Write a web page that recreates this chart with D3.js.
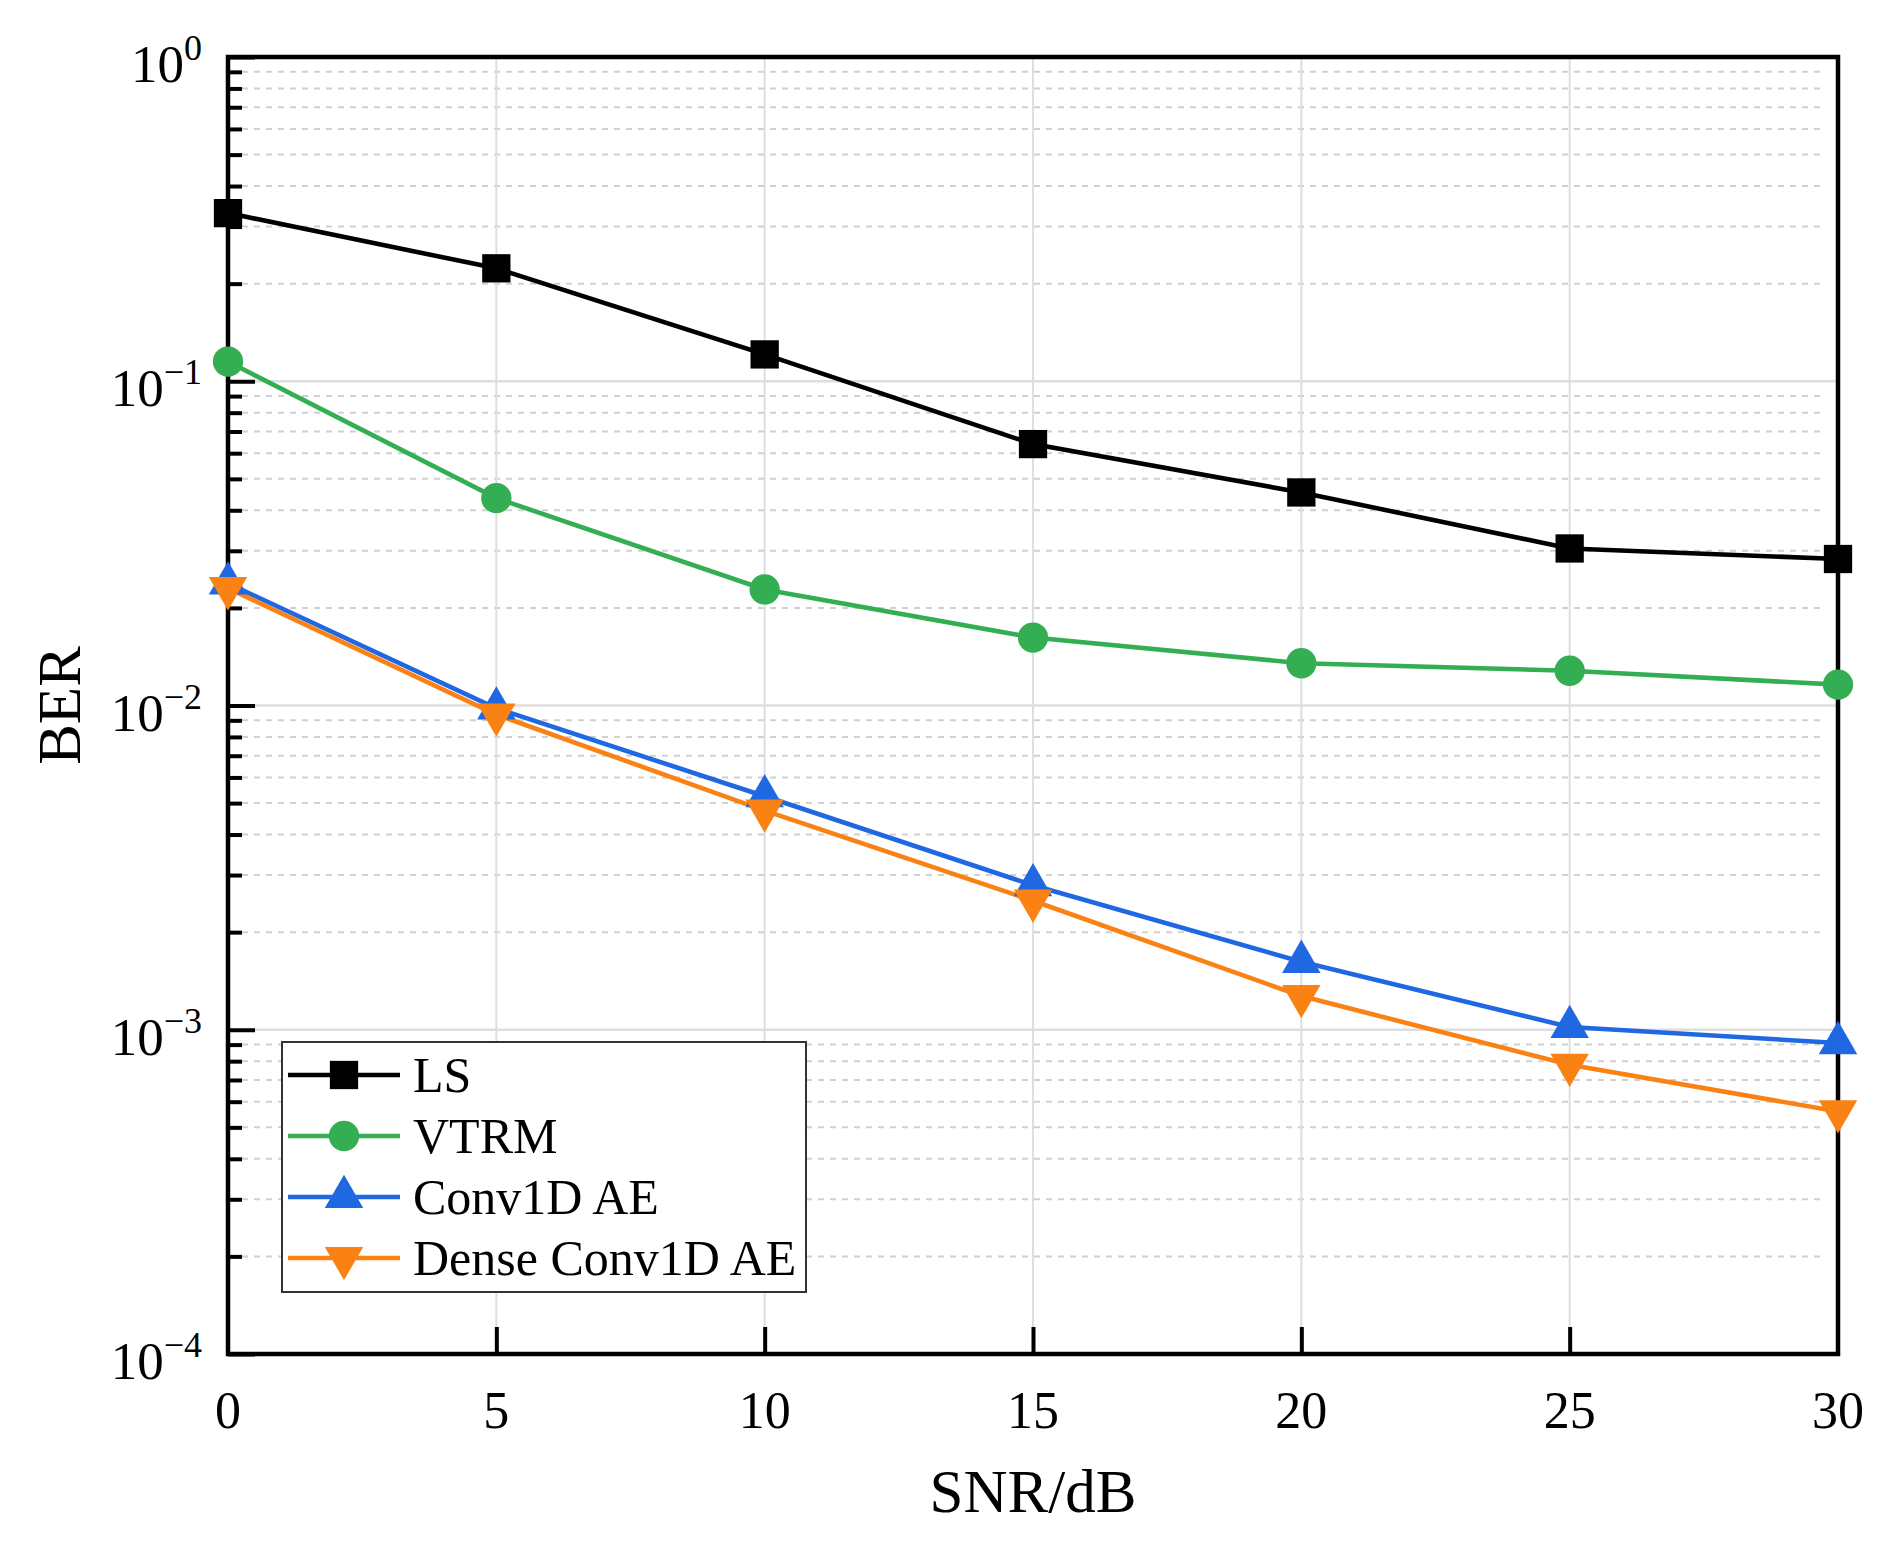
<!DOCTYPE html>
<html>
<head>
<meta charset="utf-8">
<script src="https://cdn.jsdelivr.net/npm/d3@7"></script>
<style>
  body { margin: 0; background: #fff; }
  text { font-family: "Liberation Serif", "Times New Roman", serif; fill: #000; }
</style>
</head>
<body>
<svg id="chart" width="1888" height="1557"></svg>
<script>
const snr = [0, 5, 10, 15, 20, 25, 30];
const berLS = [0.33, 0.223, 0.121, 0.064, 0.0454, 0.0305, 0.0283];
const berVTRM = [0.115, 0.0436, 0.0228, 0.0162, 0.0135, 0.0128, 0.0116];
const berConv = [0.0238, 0.0098, 0.00525, 0.00279, 0.00162, 0.00102, 0.00091];
const berDense = [0.023, 0.00938, 0.00474, 0.0025, 0.00127, 0.00078, 0.00056];
const seriesNames = ["LS", "VTRM", "Conv1D AE", "Dense Conv1D AE"];
const xTicks = [0, 5, 10, 15, 20, 25, 30];
const yExponents = [0, -1, -2, -3, -4];

const width = 1888;
const height = 1557;
const margin = { top: 57, right: 50, bottom: 203, left: 228 };

const series = [
  { name: seriesNames[0], values: berLS, color: "#000000", symbol: d3.symbolSquare, rot: 0 },
  { name: seriesNames[1], values: berVTRM, color: "#33ae52", symbol: d3.symbolCircle, rot: 0 },
  { name: seriesNames[2], values: berConv, color: "#1f68e2", symbol: d3.symbolTriangle, rot: 0 },
  { name: seriesNames[3], values: berDense, color: "#fa8214", symbol: d3.symbolTriangle, rot: 180 },
];
const symbolSize = { "LS": 800, "VTRM": 720, "Conv1D AE": 640, "Dense Conv1D AE": 640 };

const svg = d3.select("#chart");
svg.append("rect").attr("width", width).attr("height", height).attr("fill", "#fff");

const x = d3.scaleLinear().domain([0, 30]).range([margin.left, width - margin.right]);
const y = d3.scaleLog().domain([1e-4, 1]).range([height - margin.bottom, margin.top]);

const majorY = yExponents.map(e => Math.pow(10, e));
let minorY = [];
for (let e = -4; e < 0; e++) {
  for (let k = 2; k <= 9; k++) minorY.push(k * Math.pow(10, e));
}

// grid
const grid = svg.append("g");
grid.selectAll(".minor").data(minorY).enter().append("line")
  .attr("x1", x(0) + 14).attr("x2", x(30) - 14)
  .attr("y1", d => y(d)).attr("y2", d => y(d))
  .attr("stroke", "#d0d0d0").attr("stroke-width", 2).attr("stroke-dasharray", "6,6");
grid.selectAll(".majory").data(majorY.slice(1, 4)).enter().append("line")
  .attr("x1", x(0)).attr("x2", x(30))
  .attr("y1", d => y(d)).attr("y2", d => y(d))
  .attr("stroke", "#dedede").attr("stroke-width", 2.5);
grid.selectAll(".majorx").data(xTicks.slice(1, 6)).enter().append("line")
  .attr("x1", d => x(d)).attr("x2", d => x(d))
  .attr("y1", y(1)).attr("y2", y(1e-4))
  .attr("stroke", "#dedede").attr("stroke-width", 2);

// axes (ticks inside)
const yMajorAxis = d3.axisLeft(y).tickValues(majorY).tickSize(-27).tickFormat("");
const yMinorAxis = d3.axisLeft(y).tickValues(minorY).tickSize(-14).tickFormat("");
const xAxis = d3.axisBottom(x).tickValues(xTicks.slice(1, 6)).tickSize(-27).tickFormat("");

const gy1 = svg.append("g").attr("transform", `translate(${margin.left},0)`).call(yMajorAxis);
const gy2 = svg.append("g").attr("transform", `translate(${margin.left},0)`).call(yMinorAxis);
const gx = svg.append("g").attr("transform", `translate(0,${height - margin.bottom})`).call(xAxis);
[gy1, gy2, gx].forEach(g => {
  g.select(".domain").remove();
  g.selectAll(".tick line").attr("stroke", "#000").attr("stroke-width", 4);
});

// frame
svg.append("rect")
  .attr("x", x(0)).attr("y", y(1))
  .attr("width", x(30) - x(0)).attr("height", y(1e-4) - y(1))
  .attr("fill", "none").attr("stroke", "#000").attr("stroke-width", 4.5);

// tick labels
svg.append("g").selectAll("text").data(xTicks).enter().append("text")
  .attr("x", d => x(d)).attr("y", height - margin.bottom + 74)
  .attr("text-anchor", "middle").attr("font-size", 52)
  .text(d => d);

const yl = svg.append("g").selectAll("text").data(yExponents).enter().append("text")
  .attr("x", margin.left - 26).attr("y", d => y(Math.pow(10, d)) + 25)
  .attr("text-anchor", "end").attr("font-size", 53);
yl.append("tspan").text("10");
yl.append("tspan").attr("dy", -22).attr("font-size", 36)
  .text(d => d === 0 ? "0" : "\u2212" + Math.abs(d));

// axis titles
svg.append("text")
  .attr("x", (x(0) + x(30)) / 2).attr("y", 1512)
  .attr("text-anchor", "middle").attr("font-size", 61)
  .text("SNR/dB");
svg.append("text")
  .attr("transform", `translate(80,${(y(1) + y(1e-4)) / 2}) rotate(-90)`)
  .attr("text-anchor", "middle").attr("font-size", 61)
  .text("BER");

// lines and markers
const line = d3.line().x((d, i) => x(snr[i])).y(d => y(d));
series.forEach(s => {
  svg.append("path").datum(s.values)
    .attr("d", line).attr("fill", "none")
    .attr("stroke", s.color).attr("stroke-width", 4.6);
});
series.forEach(s => {
  const sym = d3.symbol().type(s.symbol).size(symbolSize[s.name]);
  svg.append("g").selectAll("path").data(s.values).enter().append("path")
    .attr("d", sym)
    .attr("transform", (d, i) => `translate(${x(snr[i])},${y(d)}) rotate(${s.rot})`)
    .attr("fill", s.color);
});

// legend
const lg = svg.append("g").attr("transform", "translate(282,1042)");
lg.append("rect").attr("width", 524).attr("height", 250)
  .attr("fill", "#fff").attr("stroke", "#333").attr("stroke-width", 2);
series.forEach((s, i) => {
  const cy = 33 + i * 61;
  const row = lg.append("g").attr("transform", `translate(0,${cy})`);
  row.append("line").attr("x1", 6).attr("x2", 118).attr("y1", 0).attr("y2", 0)
    .attr("stroke", s.color).attr("stroke-width", 4.6);
  row.append("path")
    .attr("d", d3.symbol().type(s.symbol).size(symbolSize[s.name])())
    .attr("transform", `translate(62,0) rotate(${s.rot})`)
    .attr("fill", s.color);
  row.append("text").attr("x", 131).attr("y", 17).attr("font-size", 50).text(s.name);
});
</script>
</body>
</html>
